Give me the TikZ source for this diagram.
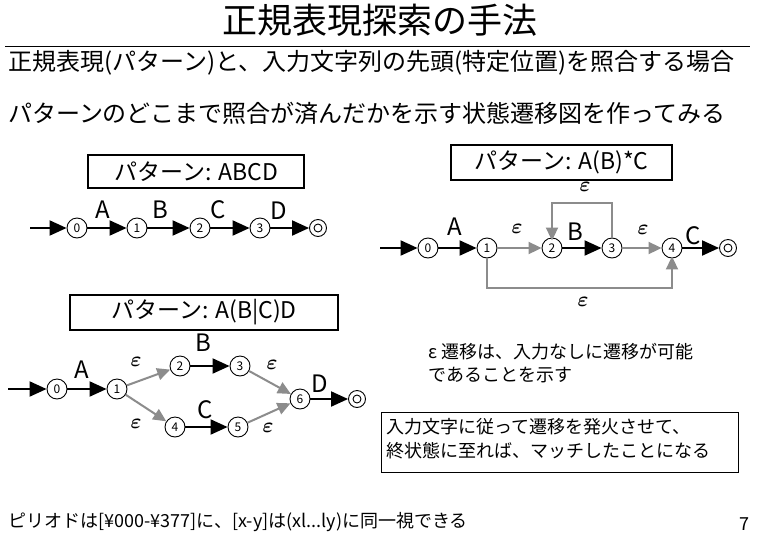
\documentclass[tikz,border=0pt]{standalone}
\usepackage{amsmath}
\usepackage{fontspec}
\setmainfont{Noto Sans CJK JP}
\usetikzlibrary{arrows.meta}
\begin{document}
\begin{tikzpicture}[x=1pt,y=-1pt,
  st/.style={circle,draw,line width=0.9pt,minimum size=20pt,inner sep=0pt,font=\fontsize{12}{12}\selectfont},
  fin/.style={circle,draw,line width=0.9pt,minimum size=17pt,inner sep=0pt},
  blk/.style={line width=2pt,-{Triangle[length=17pt,width=15pt]}},
  gry/.style={draw=black!45,line width=2pt,-{Triangle[length=13pt,width=12pt,fill=black!45]}},
  lab/.style={font=\fontsize{24}{24}\selectfont,inner sep=0pt},
  eps/.style={font=\fontsize{22}{22}\selectfont,inner sep=0pt},
  pbox/.style={draw,line width=1.2pt,font=\fontsize{23}{23}\selectfont,inner sep=0pt},
  body/.style={font=\fontsize{24}{24}\selectfont,anchor=west,inner sep=0pt},
  small/.style={font=\fontsize{18}{18}\selectfont,anchor=west,inner sep=0pt}]
\fill[white] (0,0) rectangle (760,536);
\useasboundingbox (0,0) rectangle (760,536);

% title and header text
\node[font=\fontsize{35}{35}\selectfont,inner sep=0pt] (title) at (380,20) {正規表現探索の手法};
\draw[line width=1pt] (5,46) -- (750,46);
\node[body] (l1) at (8,63) {正規表現(パターン)と、入力文字列の先頭(特定位置)を照合する場合};
\node[body] (l2) at (8,113) {パターンのどこまで照合が済んだかを示す状態遷移図を作ってみる};

% ---------- diagram 1: ABCD
\node[pbox,minimum width=216pt,minimum height=33pt] (p1) at (196,171.5) {パターン: ABCD};
\coordinate (ain) at (30,228);
\node[st] (a0) at (77,228) {0};
\node[st] (a1) at (137,228) {1};
\node[st] (a2) at (200,228) {2};
\node[st] (a3) at (260,228) {3};
\node[fin] (af) at (318,228) {};
\draw[line width=0.9pt] (af) circle (4pt);
\draw[blk] (ain) -- (a0);
\draw[blk] (a0) -- (a1);
\draw[blk] (a1) -- (a2);
\draw[blk] (a2) -- (a3);
\draw[blk] (a3) -- (af);
\node[lab] (la) at (103,210) {A};
\node[lab] (lb) at (160,210) {B};
\node[lab] (lc) at (218,210) {C};
\node[lab] (ld) at (279,211) {D};

% ---------- diagram 2: A(B)*C
\node[pbox,minimum width=221pt,minimum height=35pt] (p2) at (561.5,162.5) {パターン: A(B)*C};
\coordinate (bin) at (380,248);
\node[st] (b0) at (428,248) {0};
\node[st] (b1) at (487,248) {1};
\node[st] (b2) at (552,248) {2};
\node[st] (b3) at (612,248) {3};
\node[st] (b4) at (672,248) {4};
\node[fin] (bf) at (728,248) {};
\draw[line width=0.9pt] (bf) circle (4pt);
\draw[blk] (bin) -- (b0);
\draw[blk] (b0) -- (b1);
\draw[gry] (b1) -- (b2);
\draw[blk] (b2) -- (b3);
\draw[gry] (b3) -- (b4);
\draw[blk] (b4) -- (bf);
\coordinate (loopL) at (552,203);
\draw[gry] (b3.north) |- (loopL) -- ([yshift=-3pt]b2.north);
\coordinate (botR) at (672,288);
\draw[gry] (b1.south) |- (botR) -- ([yshift=2pt]b4.south);
\node[lab] (lba) at (455,227) {A};
\node[eps] (e12) at (517,229) {$\boldsymbol{\varepsilon}$};
\node[lab] (lbb) at (575,232) {B};
\node[eps] (e34) at (643,230) {$\boldsymbol{\varepsilon}$};
\node[lab] (lbc) at (693,236) {C};
\node[eps] (eloop) at (585,187) {$\boldsymbol{\varepsilon}$};
\node[eps] (ebot) at (583,302) {$\boldsymbol{\varepsilon}$};

% ---------- diagram 3: A(B|C)D
\node[pbox,minimum width=268pt,minimum height=35pt] (p3) at (204,312.5) {パターン: A(B|C)D};
\coordinate (cin) at (8,389);
\node[st] (c0) at (57,389) {0};
\node[st] (c1) at (117,389) {1};
\node[st] (c2) at (180,366) {2};
\node[st] (c3) at (240,366) {3};
\node[st] (c4) at (175,427) {4};
\node[st] (c5) at (238,427) {5};
\node[st] (c6) at (300,399) {6};
\node[fin] (cf) at (357,399) {};
\draw[line width=0.9pt] (cf) circle (4pt);
\draw[blk] (cin) -- (c0);
\draw[blk] (c0) -- (c1);
\draw[gry] (c1) -- (c2);
\draw[gry] (c1) -- (c4);
\draw[blk] (c2) -- (c3);
\draw[blk] (c4) -- (c5);
\draw[gry] (c3) -- (c6);
\draw[gry] (c5) -- (c6);
\draw[blk] (c6) -- (cf);
\node[lab] (lca) at (82,370) {A};
\node[eps] (ec12) at (136,362) {$\boldsymbol{\varepsilon}$};
\node[lab] (lcb) at (203,343) {B};
\node[eps] (ec36) at (272,365) {$\boldsymbol{\varepsilon}$};
\node[lab] (lcd) at (320,384) {D};
\node[eps] (ec14) at (136,424) {$\boldsymbol{\varepsilon}$};
\node[lab] (lcc) at (205,410) {C};
\node[eps] (ec56) at (268,428) {$\boldsymbol{\varepsilon}$};

% ---------- notes
\node[small] (n1) at (428,352) {ε 遷移は、入力なしに遷移が可能};
\node[small] (n2) at (428,375) {であることを示す};
\node[draw,line width=1.2pt,minimum width=357pt,minimum height=60pt,anchor=north west,inner sep=0pt] (box4) at (381,412) {};
\node[small] (t1) at (386,427) {入力文字に従って遷移を発火させて、};
\node[small] (t2) at (386,451) {終状態に至れば、マッチしたことになる};

% footer
\node[small] (foot) at (8,522) {ピリオドは[¥000-¥377]に、[x-y]は(xl...ly)に同一視できる};
\node[font=\fontsize{18}{18}\selectfont,inner sep=0pt] (pg) at (744,524) {7};
\end{tikzpicture}
\end{document}
